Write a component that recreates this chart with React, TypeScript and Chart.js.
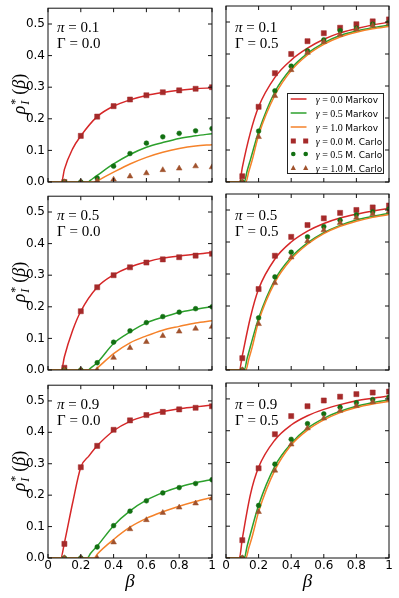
import React, { useEffect, useRef } from 'react';
import { Chart, registerables } from 'chart.js';
Chart.register(...registerables);

type Pt = [number, number];

// ---------------- DATA ----------------
const betaMC = [0.1, 0.2, 0.3, 0.4, 0.5, 0.6, 0.7, 0.8, 0.9, 1.0];
const xTickValues = [0, 0.2, 0.4, 0.6, 0.8, 1.0];
const yTickValues = [0, 0.1, 0.2, 0.3, 0.4, 0.5];
const piLabels = ['0.1', '0.5', '0.9'];
const GammaLabels = ['0.0', '0.5'];
const gammaLegendValues = ['0.0', '0.5', '1.0'];

// panel 1: pi=0.1, Gamma=0.0
const p1MarkovG00: Pt[] = [[0,0],[0.083,0],[0.1,0.04],[0.15,0.105],[0.2,0.146],[0.3,0.207],[0.4,0.24],[0.5,0.26],[0.6,0.274],[0.7,0.283],[0.8,0.29],[0.9,0.295],[1,0.298]];
const p1MarkovG05: Pt[] = [[0,0],[0.244,0],[0.26,0.006],[0.3,0.021],[0.4,0.057],[0.5,0.087],[0.6,0.11],[0.7,0.125],[0.8,0.138],[0.9,0.146],[1,0.153]];
const p1MarkovG10: Pt[] = [[0,0],[0.29,0],[0.31,0.006],[0.4,0.031],[0.5,0.057],[0.6,0.078],[0.7,0.094],[0.8,0.106],[0.9,0.114],[1,0.118]];
const p1CarloG00 = [0, 0.146, 0.207, 0.24, 0.261, 0.2745, 0.284, 0.29, 0.295, 0.3];
const p1CarloG05 = [0, 0, 0.0125, 0.05, 0.09, 0.123, 0.143, 0.154, 0.162, 0.169];
const p1CarloG10 = [0, 0, 0.004, 0.008, 0.018, 0.028, 0.038, 0.043, 0.05, 0.047];

// panel 2: pi=0.1, Gamma=0.5
const p2MarkovG00: Pt[] = [[0,0],[0.084,0],[0.1,0.045],[0.15,0.155],[0.2,0.235],[0.3,0.327],[0.4,0.381],[0.5,0.418],[0.6,0.446],[0.7,0.466],[0.8,0.479],[0.9,0.491],[1,0.499]];
const p2MarkovG05: Pt[] = [[0,0],[0.112,0],[0.13,0.035],[0.15,0.07],[0.2,0.157],[0.3,0.282],[0.4,0.355],[0.5,0.402],[0.6,0.435],[0.7,0.458],[0.8,0.472],[0.9,0.482],[1,0.49]];
const p2MarkovG10: Pt[] = [[0,0],[0.122,0],[0.14,0.033],[0.16,0.067],[0.2,0.146],[0.3,0.271],[0.4,0.348],[0.5,0.397],[0.6,0.43],[0.7,0.453],[0.8,0.468],[0.9,0.479],[1,0.486]];
const p2CarloG00 = [0.018, 0.235, 0.34, 0.4, 0.44, 0.465, 0.482, 0.493, 0.502, 0.508];
const p2CarloG05 = [0, 0.159, 0.285, 0.362, 0.41, 0.444, 0.473, 0.481, 0.493, 0.499];
const p2CarloG10 = [0, 0.141, 0.269, 0.35, 0.404, 0.438, 0.461, 0.477, 0.489, 0.496];

// panel 3: pi=0.5, Gamma=0.0
const p3MarkovG00: Pt[] = [[0,0],[0.082,0],[0.1,0.042],[0.15,0.125],[0.2,0.186],[0.3,0.262],[0.4,0.301],[0.5,0.326],[0.6,0.342],[0.7,0.354],[0.8,0.361],[0.9,0.366],[1,0.372]];
const p3MarkovG05: Pt[] = [[0,0],[0.245,0],[0.26,0.006],[0.3,0.023],[0.4,0.084],[0.5,0.12],[0.6,0.149],[0.7,0.167],[0.8,0.182],[0.9,0.192],[1,0.201]];
const p3MarkovG10: Pt[] = [[0,0],[0.286,0],[0.3,0.006],[0.4,0.052],[0.5,0.086],[0.6,0.108],[0.7,0.126],[0.8,0.138],[0.9,0.149],[1,0.156]];
const p3CarloG00 = [0.007, 0.186, 0.262, 0.3, 0.325, 0.34, 0.35, 0.357, 0.362, 0.368];
const p3CarloG05 = [0, 0, 0.023, 0.088, 0.124, 0.15, 0.169, 0.183, 0.194, 0.2];
const p3CarloG10 = [0, 0, 0, 0.039, 0.07, 0.089, 0.108, 0.122, 0.131, 0.137];

// panel 4: pi=0.5, Gamma=0.5
const p4MarkovG00: Pt[] = [[0,0],[0.082,0],[0.1,0.045],[0.15,0.165],[0.2,0.253],[0.3,0.347],[0.4,0.4],[0.5,0.434],[0.6,0.458],[0.7,0.475],[0.8,0.487],[0.9,0.497],[1,0.505]];
const p4MarkovG05: Pt[] = [[0,0],[0.112,0],[0.13,0.037],[0.15,0.074],[0.2,0.162],[0.3,0.282],[0.4,0.352],[0.5,0.397],[0.6,0.429],[0.7,0.452],[0.8,0.469],[0.9,0.48],[1,0.49]];
const p4MarkovG10: Pt[] = [[0,0],[0.122,0],[0.14,0.034],[0.16,0.07],[0.2,0.152],[0.3,0.274],[0.4,0.346],[0.5,0.393],[0.6,0.426],[0.7,0.449],[0.8,0.465],[0.9,0.477],[1,0.486]];
const p4CarloG00 = [0.037, 0.253, 0.357, 0.416, 0.453, 0.474, 0.491, 0.5, 0.508, 0.514];
const p4CarloG05 = [0, 0.163, 0.291, 0.368, 0.416, 0.448, 0.468, 0.485, 0.494, 0.503];
const p4CarloG10 = [0, 0.144, 0.272, 0.352, 0.403, 0.437, 0.46, 0.476, 0.487, 0.496];

// panel 5: pi=0.9, Gamma=0.0
const p5MarkovG00: Pt[] = [[0,0],[0.078,0],[0.1,0.048],[0.15,0.175],[0.2,0.289],[0.25,0.325],[0.3,0.357],[0.4,0.405],[0.5,0.435],[0.6,0.453],[0.7,0.466],[0.8,0.475],[0.9,0.481],[1,0.487]];
const p5MarkovG05: Pt[] = [[0,0],[0.239,0],[0.26,0.015],[0.3,0.038],[0.4,0.103],[0.5,0.15],[0.6,0.184],[0.7,0.208],[0.8,0.226],[0.9,0.239],[1,0.25]];
const p5MarkovG10: Pt[] = [[0,0],[0.282,0],[0.3,0.012],[0.4,0.059],[0.5,0.098],[0.6,0.126],[0.7,0.147],[0.8,0.165],[0.9,0.18],[1,0.193]];
const p5CarloG00 = [0.045, 0.289, 0.357, 0.408, 0.438, 0.455, 0.465, 0.473, 0.478, 0.483];
const p5CarloG05 = [0, 0, 0.035, 0.103, 0.149, 0.182, 0.207, 0.224, 0.237, 0.249];
const p5CarloG10 = [0, 0, 0, 0.05, 0.092, 0.121, 0.144, 0.161, 0.174, 0.19];

// panel 6: pi=0.9, Gamma=0.5
const p6MarkovG00: Pt[] = [[0,0],[0.082,0],[0.1,0.06],[0.15,0.2],[0.2,0.285],[0.3,0.371],[0.4,0.418],[0.5,0.447],[0.6,0.467],[0.7,0.482],[0.8,0.494],[0.9,0.502],[1,0.509]];
const p6MarkovG05: Pt[] = [[0,0],[0.112,0],[0.13,0.038],[0.15,0.076],[0.2,0.166],[0.3,0.289],[0.4,0.36],[0.5,0.408],[0.6,0.439],[0.7,0.461],[0.8,0.477],[0.9,0.488],[1,0.497]];
const p6MarkovG10: Pt[] = [[0,0],[0.122,0],[0.14,0.032],[0.16,0.066],[0.2,0.145],[0.3,0.276],[0.4,0.355],[0.5,0.402],[0.6,0.434],[0.7,0.457],[0.8,0.473],[0.9,0.484],[1,0.492]];
const p6CarloG00 = [0.056, 0.282, 0.389, 0.446, 0.477, 0.495, 0.507, 0.515, 0.52, 0.523];
const p6CarloG05 = [0, 0.165, 0.295, 0.373, 0.422, 0.453, 0.474, 0.488, 0.498, 0.505];
const p6CarloG10 = [0, 0.145, 0.275, 0.357, 0.408, 0.439, 0.463, 0.478, 0.49, 0.499];

// ---------------- STYLE ----------------
const LINE_COLORS = ['#d62728', '#2ca02c', '#f5822a'];
const MARK_COLORS = ['#a52a2a', '#127012', '#a0522d'];
const MARK_STYLES = ['rect', 'circle', 'triangle'];
const MARK_RADII = [3.6, 2.4, 3.3];

const COLS = [{ left: 48, width: 164 }, { left: 226, width: 163 }];
const ROWS = [{ top: 6, height: 176 }, { top: 194, height: 176 }, { top: 383, height: 175 }];
const PAD_L = 48, PAD_T = 8, PAD_R = 10, PAD_B = 26;

const panels = [
  { markov: [p1MarkovG00, p1MarkovG05, p1MarkovG10], carlo: [p1CarloG00, p1CarloG05, p1CarloG10], row: 0, col: 0 },
  { markov: [p2MarkovG00, p2MarkovG05, p2MarkovG10], carlo: [p2CarloG00, p2CarloG05, p2CarloG10], row: 0, col: 1 },
  { markov: [p3MarkovG00, p3MarkovG05, p3MarkovG10], carlo: [p3CarloG00, p3CarloG05, p3CarloG10], row: 1, col: 0 },
  { markov: [p4MarkovG00, p4MarkovG05, p4MarkovG10], carlo: [p4CarloG00, p4CarloG05, p4CarloG10], row: 1, col: 1 },
  { markov: [p5MarkovG00, p5MarkovG05, p5MarkovG10], carlo: [p5CarloG00, p5CarloG05, p5CarloG10], row: 2, col: 0 },
  { markov: [p6MarkovG00, p6MarkovG05, p6MarkovG10], carlo: [p6CarloG00, p6CarloG05, p6CarloG10], row: 2, col: 1 },
];

const frameTicksPlugin = {
  id: 'frameTicks',
  afterDatasetsDraw(chart: any) {
    const { ctx, chartArea, scales } = chart;
    const { left, right, top, bottom } = chartArea;
    const L = 4;
    ctx.save();
    ctx.strokeStyle = '#111';
    ctx.lineWidth = 1;
    ctx.beginPath();
    xTickValues.forEach((v) => {
      const px = scales.x.getPixelForValue(v);
      ctx.moveTo(px, bottom); ctx.lineTo(px, bottom - L);
      ctx.moveTo(px, top); ctx.lineTo(px, top + L);
    });
    yTickValues.forEach((v) => {
      const py = scales.y.getPixelForValue(v);
      ctx.moveTo(left, py); ctx.lineTo(left + L, py);
      ctx.moveTo(right, py); ctx.lineTo(right - L, py);
    });
    ctx.stroke();
    ctx.strokeRect(left, top, right - left, bottom - top);
    ctx.restore();
  },
};

function Panel({ idx }: { idx: number }) {
  const ref = useRef<HTMLCanvasElement>(null);
  const p = panels[idx];
  const col = COLS[p.col];
  const row = ROWS[p.row];
  const w = col.width + PAD_L + PAD_R;
  const h = row.height + PAD_T + PAD_B;
  const showX = p.row === 2;
  const showY = p.col === 0;

  useEffect(() => {
    const datasets: any[] = [];
    p.markov.forEach((pts, i) => {
      datasets.push({
        data: pts.map(([x, y]) => ({ x, y })),
        showLine: true,
        borderColor: LINE_COLORS[i],
        backgroundColor: LINE_COLORS[i],
        borderWidth: 1.5,
        pointRadius: 0,
        cubicInterpolationMode: 'monotone',
        fill: false,
        order: 6 - i,
      });
    });
    p.carlo.forEach((vals, i) => {
      datasets.push({
        data: vals.map((y, k) => ({ x: betaMC[k], y })),
        showLine: false,
        pointStyle: MARK_STYLES[i],
        pointRadius: MARK_RADII[i],
        backgroundColor: MARK_COLORS[i],
        borderColor: MARK_COLORS[i],
        borderWidth: 0.5,
        order: 3 - i,
      });
    });
    const tickFont = { family: '"DejaVu Sans", sans-serif', size: 12 };
    const chart = new Chart(ref.current!, {
      type: 'scatter',
      data: { datasets },
      options: {
        animation: false,
        responsive: false,
        devicePixelRatio: 1,
        events: [],
        layout: { padding: { left: 0, top: PAD_T, right: PAD_R, bottom: 0 } },
        plugins: { legend: { display: false }, tooltip: { enabled: false } },
        scales: {
          x: {
            type: 'linear', min: 0, max: 1,
            grid: { display: false, drawTicks: false },
            border: { display: false },
            ticks: {
              display: showX, stepSize: 0.2, autoSkip: false, maxRotation: 0, padding: 1,
              color: '#000', font: tickFont,
              callback: (v: any) => (v === 0 ? '0' : v === 1 ? '1' : Number(v).toFixed(1)),
            },
            afterFit: (s: any) => { s.height = PAD_B; },
          },
          y: {
            type: 'linear', min: 0, max: 0.55,
            grid: { display: false, drawTicks: false },
            border: { display: false },
            ticks: {
              display: showY, stepSize: 0.1, includeBounds: false, autoSkip: false, padding: 3,
              color: '#000', font: tickFont,
              callback: (v: any) => Number(v).toFixed(1),
            },
            afterFit: (s: any) => { s.width = PAD_L; },
          },
        },
      } as any,
      plugins: [frameTicksPlugin],
    });
    return () => chart.destroy();
  }, []);

  return (
    <canvas
      ref={ref}
      width={w}
      height={h}
      style={{ position: 'absolute', left: col.left - PAD_L, top: row.top - PAD_T, width: w, height: h }}
    />
  );
}

const serif = '"Liberation Serif", "DejaVu Serif", serif';

function Annotation({ r, c }: { r: number; c: number }) {
  return (
    <div style={{ position: 'absolute', left: COLS[c].left + 9, top: ROWS[r].top + 13, fontFamily: serif, fontSize: 15, lineHeight: '16px', whiteSpace: 'nowrap', color: '#000' }}>
      <div><i>π</i> = {piLabels[r]}</div>
      <div>Γ = {GammaLabels[c]}</div>
    </div>
  );
}

function YLabel({ r }: { r: number }) {
  const cy = ROWS[r].top + ROWS[r].height / 2;
  return (
    <div style={{ position: 'absolute', left: 19 - 40, top: cy - 12, width: 80, height: 24, transform: 'rotate(-90deg)', display: 'flex', alignItems: 'center', justifyContent: 'center', fontFamily: serif, fontSize: 18, whiteSpace: 'nowrap', color: '#000' }}>
      <span style={{ fontStyle: 'italic' }}>ρ</span>
      <span style={{ display: 'inline-flex', flexDirection: 'column', fontSize: 12, lineHeight: '10px', marginLeft: 1, marginRight: 4, marginTop: 2 }}>
        <span>*</span>
        <span style={{ fontStyle: 'italic' }}>I</span>
      </span>
      <span>(</span><span style={{ fontStyle: 'italic' }}>β</span><span>)</span>
    </div>
  );
}

function XLabel({ c }: { c: number }) {
  const cx = COLS[c].left + COLS[c].width / 2;
  return (
    <div style={{ position: 'absolute', left: cx - 20, top: 571, width: 40, textAlign: 'center', fontFamily: serif, fontStyle: 'italic', fontSize: 19, lineHeight: '20px', color: '#000' }}>β</div>
  );
}

function Legend() {
  const rowsH = 13.8;
  const items = [0, 1, 2, 3, 4, 5];
  return (
    <div style={{ position: 'absolute', left: 287, top: 93, width: 97, height: 81, boxSizing: 'border-box', border: '1px solid #222', background: '#fff' }}>
      {items.map((i) => {
        const g = i % 3;
        const isLine = i < 3;
        const cy = 5.2 + rowsH * i;
        return (
          <div key={i} style={{ position: 'absolute', left: 0, top: cy - 7, height: 14, width: 95, whiteSpace: 'nowrap' }}>
            <svg width={24} height={14} style={{ position: 'absolute', left: 0, top: 0 }}>
              {isLine ? (
                <line x1={2.7} y1={7} x2={18.5} y2={7} stroke={LINE_COLORS[g]} strokeWidth={1.5} />
              ) : g === 0 ? (
                [5.3, 17.7].map((x) => <rect key={x} x={x - 2.5} y={4.5} width={5} height={5} fill={MARK_COLORS[0]} />)
              ) : g === 1 ? (
                [5.3, 17.7].map((x) => <circle key={x} cx={x} cy={7} r={2.3} fill={MARK_COLORS[1]} />)
              ) : (
                [5.3, 17.7].map((x) => <polygon key={x} points={`${x},4 ${x - 2.6},9 ${x + 2.6},9`} fill={MARK_COLORS[2]} />)
              )}
            </svg>
            <div style={{ position: 'absolute', left: 27.7, top: -1, lineHeight: '14px', color: '#000' }}>
              <span style={{ fontFamily: serif, fontSize: 10 }}><i>γ</i> = {gammaLegendValues[g]} </span>
              <span style={{ fontFamily: '"DejaVu Sans", sans-serif', fontSize: 9 }}>{isLine ? 'Markov' : 'M. Carlo'}</span>
            </div>
          </div>
        );
      })}
    </div>
  );
}

export default function App() {
  return (
    <div style={{ position: 'absolute', left: 0, top: 0, width: 399, height: 598, overflow: 'hidden', background: '#fff' }}>
      {panels.map((_, i) => <Panel key={i} idx={i} />)}
      {[0, 1, 2].map((r) => [0, 1].map((c) => <Annotation key={`a${r}${c}`} r={r} c={c} />))}
      {[0, 1, 2].map((r) => <YLabel key={`y${r}`} r={r} />)}
      {[0, 1].map((c) => <XLabel key={`x${c}`} c={c} />)}
      <Legend />
    </div>
  );
}
